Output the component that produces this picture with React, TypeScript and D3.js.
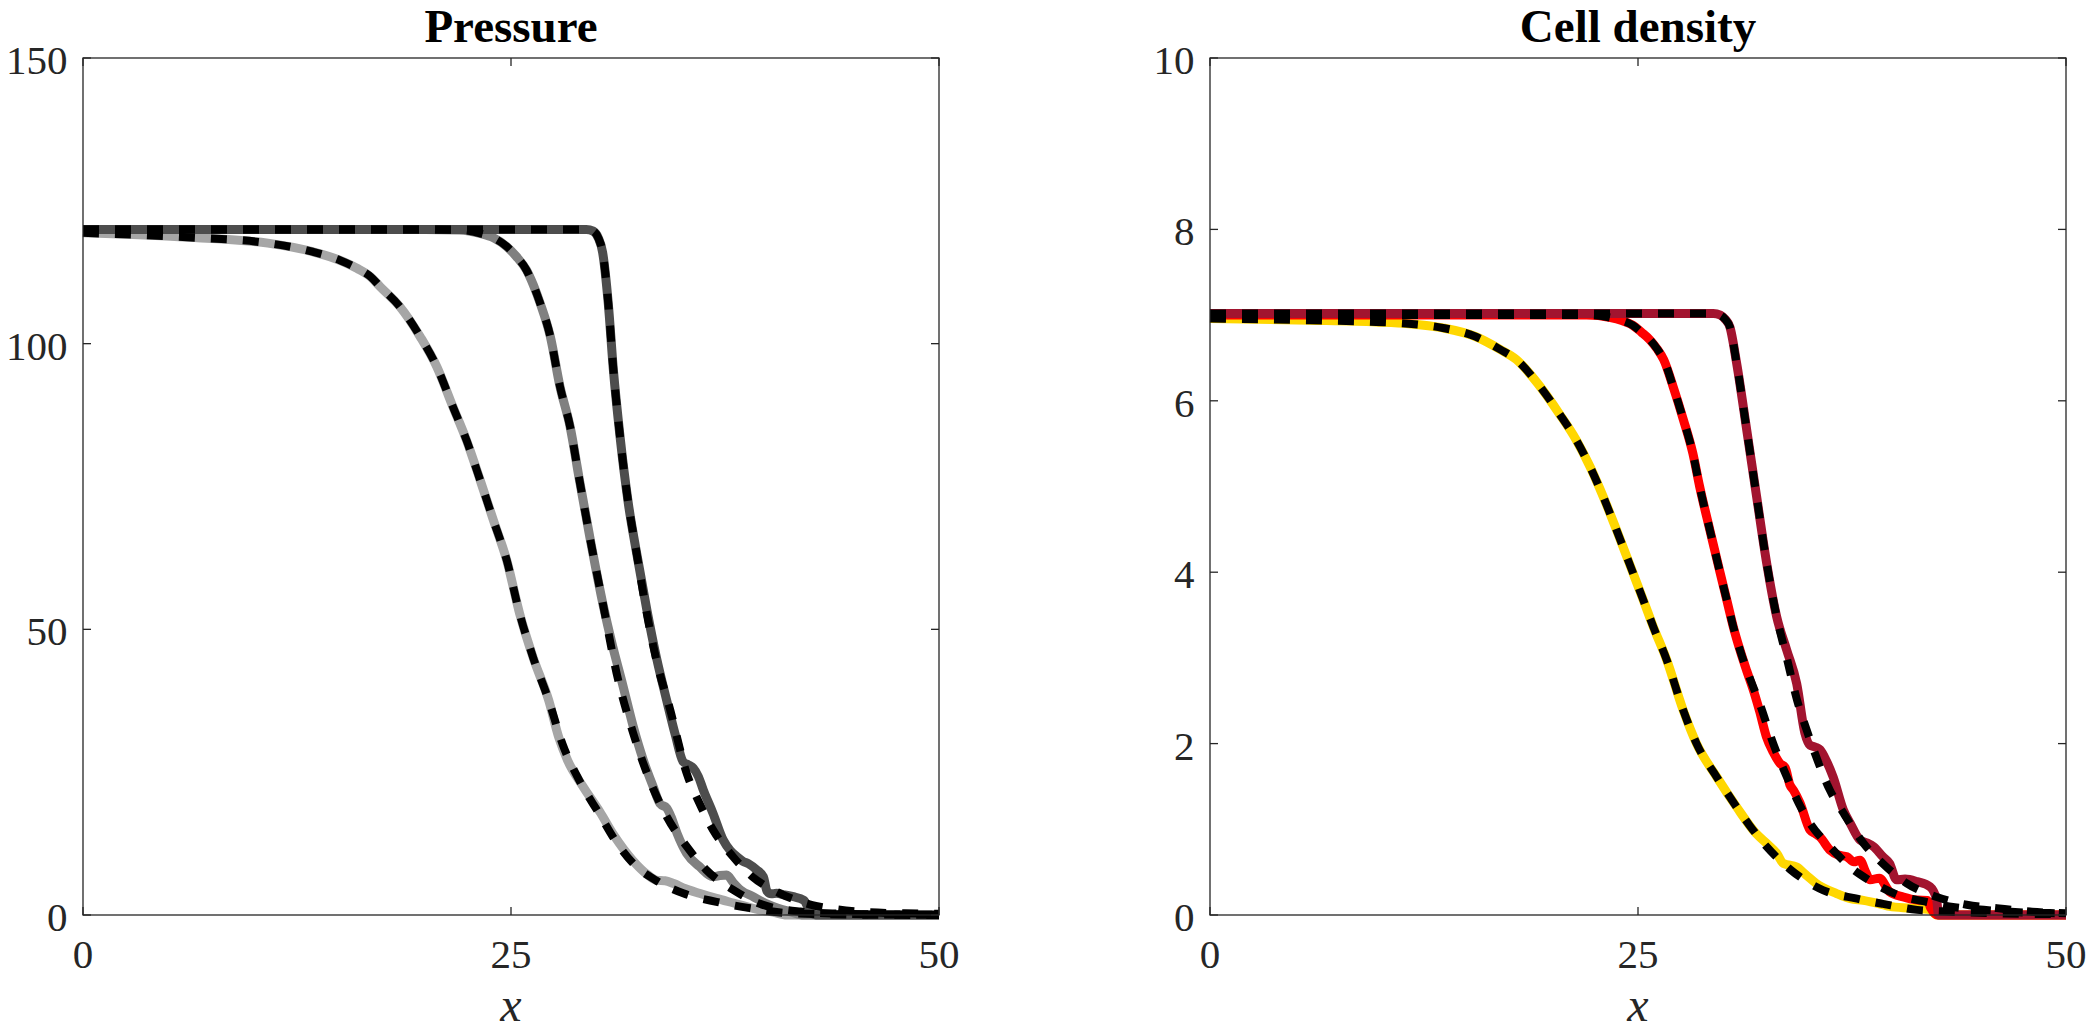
import React from "react";
import * as d3 from "d3";

// ---------- ticks ----------
const xTicks = [0, 25, 50];
const pressureTicks = [0, 50, 100, 150];
const densityTicks = [0, 2, 4, 6, 8, 10];

// ---------- Pressure: simulation (solid) ----------
const pSim1X = [0, 5.6, 10.8, 13.4, 15.0, 16.0, 16.8, 17.35, 18.5, 19.7, 20.66, 21.6, 22.4, 23.2, 23.97, 24.75, 25.5, 26.3, 27.2, 27.8, 28.3, 29.2, 30.2, 31.0, 32.1, 33.0, 33.5, 34.0, 34.5, 35.2, 36.0, 37.0, 38.0, 39.5, 40.3, 41.1, 50];
const pSim1Y = [119.4, 118.7, 117.6, 116.1, 114.6, 113.2, 111.7, 110, 106.5, 101.2, 96, 89, 83.1, 76.1, 69.1, 62.1, 52.8, 45, 37.6, 31, 27.1, 22.5, 18, 14, 9.6, 7.0, 6.1, 6.0, 5.5, 4.6, 3.8, 2.9, 2.1, 0.9, 0.5, 0, 0];

const pSim2X = [0, 20, 22, 23.19, 24.0, 24.75, 25.3, 25.9, 26.3, 26.7, 27.3, 27.86, 28.45, 29.0, 29.6, 30.4, 30.9, 31.5, 32.14, 32.73, 33.3, 33.7, 34.1, 34.35, 34.7, 35.26, 36.0, 36.8, 37.2, 37.6, 38.0, 38.4, 39.15, 39.9, 40.6, 41.3, 42.1, 50];
const pSim2Y = [120, 120, 119.9, 119.3, 118.5, 117, 115.3, 112.9, 110.3, 107.1, 101.2, 92.5, 85.5, 76.1, 66.2, 54, 47.5, 40.6, 33, 27.1, 22.5, 19.5, 18.7, 17.2, 14.3, 10.8, 8.5, 6.7, 6.9, 7.0, 5.6, 4.4, 3.2, 2.0, 1.2, 0.6, 0, 0];

const pSim3X = [0, 29.4, 29.8, 30.1, 30.35, 30.68, 30.98, 31.37, 31.85, 32.34, 32.93, 33.5, 34.09, 34.6, 35.06, 35.35, 35.65, 35.95, 36.23, 36.8, 37.4, 37.8, 38.2, 38.55, 38.86, 39.35, 39.74, 39.95, 40.2, 40.5, 41.0, 41.5, 42.1, 42.5, 42.8, 50];
const pSim3Y = [120, 120, 119.7, 118.5, 116, 107.1, 95.4, 83.7, 72.1, 63.3, 53.5, 45, 37.6, 31.5, 26.8, 26.3, 25.7, 24.2, 21.9, 17.8, 13.1, 11.3, 10.2, 9.4, 9.0, 7.9, 6.7, 4.2, 3.7, 3.8, 3.5, 3.2, 2.6, 0.6, 0, 0];

// ---------- Pressure: model (dashed) ----------
const pMod1X = [0, 5.6, 10.8, 13.4, 15.0, 16.0, 16.8, 17.35, 18.5, 19.7, 20.66, 21.6, 22.4, 23.2, 23.97, 24.75, 25.5, 26.3, 27.2, 28.0, 29.0, 30.2, 31.1, 32.14, 33.5, 35.06, 37.0, 38.96, 40.9, 43, 46, 50];
const pMod1Y = [119.4, 118.7, 117.6, 116.1, 114.6, 113.2, 111.7, 110, 106.5, 101.2, 96, 89, 83.1, 76.1, 69.1, 62.1, 52.8, 45, 37.6, 30, 23.5, 17.5, 13, 9.0, 6.0, 3.8, 2.3, 1.2, 0.4, 0.15, 0.05, 0];

const pMod2X = [0, 20, 22, 23.19, 24.0, 24.75, 25.3, 25.9, 26.3, 26.7, 27.3, 27.86, 28.45, 29.0, 29.6, 30.4, 31.17, 32.14, 33.1, 34.1, 35.26, 36.4, 37.98, 39.5, 41.9, 44, 47, 50];
const pMod2Y = [120, 120, 119.9, 119.3, 118.5, 117, 115.3, 112.9, 110.3, 107.1, 101.2, 92.5, 85.5, 76.1, 66.2, 54, 42.3, 31.8, 23.6, 17.2, 12, 7.9, 4.4, 2.0, 0.6, 0.25, 0.1, 0.05];

const pMod3X = [0, 29.4, 29.8, 30.1, 30.35, 30.68, 30.98, 31.37, 31.85, 32.34, 32.93, 33.5, 34.3, 35.26, 36.0, 36.8, 37.97, 39.1, 40.7, 42.6, 44, 45.8, 48, 50];
const pMod3Y = [120, 120, 119.7, 118.5, 116, 107.1, 95.4, 83.7, 72.1, 63.3, 52.8, 44.5, 35.9, 24.8, 19.6, 14.9, 10.2, 6.7, 3.8, 1.75, 1.0, 0.5, 0.3, 0.2];

// ---------- Cell density: simulation (solid) ----------
const nSim1X = [0, 5.8, 9.7, 11.6, 13.6, 15.5, 16.94, 17.9, 19.15, 20.4, 21.4, 22.2, 22.97, 23.75, 24.5, 25.3, 25.9, 26.67, 27.64, 28.42, 29.6, 30.76, 31.9, 32.6, 33.1, 33.5, 34.27, 34.8, 35.4, 36.6, 37.4, 38.16, 39.3, 39.7, 40.9, 42.06, 42.45, 50];
const nSim1Y = [6.96, 6.94, 6.92, 6.9, 6.85, 6.75, 6.6, 6.48, 6.2, 5.85, 5.54, 5.23, 4.88, 4.49, 4.1, 3.68, 3.36, 2.98, 2.39, 2.0, 1.61, 1.26, 0.95, 0.82, 0.72, 0.6, 0.56, 0.47, 0.37, 0.25, 0.19, 0.17, 0.12, 0.1, 0.08, 0.06, 0, 0];

const nSim2X = [0, 22, 23.4, 24.0, 24.7, 25.2, 25.7, 26.1, 26.5, 27.06, 27.65, 28.2, 28.6, 29.2, 29.8, 30.18, 30.57, 30.96, 31.35, 31.73, 32.1, 32.5, 32.9, 33.29, 33.6, 33.87, 34.1, 34.46, 35.05, 35.35, 35.63, 36.2, 36.7, 37.2, 37.6, 37.97, 38.3, 38.55, 39.1, 39.7, 40.5, 41.3, 41.9, 42.1, 42.5, 50];
const nSim2Y = [7.0, 7.0, 6.97, 6.94, 6.88, 6.8, 6.71, 6.61, 6.48, 6.16, 5.78, 5.39, 5.0, 4.49, 3.99, 3.68, 3.36, 3.09, 2.85, 2.63, 2.38, 2.08, 1.9, 1.77, 1.72, 1.52, 1.45, 1.31, 0.99, 0.95, 0.91, 0.76, 0.7, 0.68, 0.62, 0.64, 0.5, 0.41, 0.43, 0.27, 0.21, 0.175, 0.17, 0.08, 0, 0];

const nSim3X = [0, 29.4, 29.8, 30.1, 30.37, 30.76, 31.35, 31.93, 32.52, 33.1, 33.69, 34.27, 34.75, 35.05, 35.35, 35.63, 36.0, 36.4, 36.99, 37.4, 37.97, 38.4, 38.75, 39.3, 39.7, 40.1, 40.6, 41.3, 42.06, 42.45, 42.55, 50];
const nSim3Y = [7.02, 7.02, 7.0, 6.95, 6.86, 6.44, 5.66, 4.88, 4.1, 3.48, 3.09, 2.7, 2.12, 1.98, 1.96, 1.93, 1.8, 1.61, 1.23, 1.07, 0.875, 0.84, 0.8, 0.68, 0.6, 0.41, 0.42, 0.39, 0.33, 0.175, 0, 0];

// ---------- Cell density: model (dashed) ----------
const nMod1X = [0, 5.8, 9.7, 11.6, 13.6, 15.5, 16.94, 17.9, 19.15, 20.4, 21.4, 22.2, 22.97, 23.75, 24.5, 25.3, 25.9, 26.67, 27.64, 28.42, 29.6, 30.76, 31.5, 32.5, 33.9, 35.8, 37.8, 39.3, 41.3, 43, 46, 50];
const nMod1Y = [6.96, 6.94, 6.92, 6.9, 6.85, 6.75, 6.6, 6.48, 6.2, 5.85, 5.54, 5.23, 4.88, 4.49, 4.1, 3.68, 3.36, 2.98, 2.39, 2.0, 1.61, 1.26, 1.05, 0.8, 0.53, 0.29, 0.19, 0.13, 0.06, 0.04, 0.02, 0.01];

const nMod2X = [0, 22, 23.4, 24.0, 24.7, 25.2, 25.7, 26.1, 26.5, 27.06, 27.65, 28.2, 28.6, 29.2, 29.8, 30.18, 30.57, 30.96, 31.5, 32.1, 32.9, 33.7, 34.4, 35.05, 36.2, 37.4, 38.55, 40.1, 41.9, 43.5, 45.2, 47.5, 50];
const nMod2Y = [7.0, 7.0, 6.97, 6.94, 6.88, 6.8, 6.71, 6.61, 6.48, 6.16, 5.78, 5.39, 5.0, 4.49, 3.99, 3.68, 3.36, 3.09, 2.78, 2.47, 2.0, 1.61, 1.3, 1.07, 0.8, 0.56, 0.4, 0.24, 0.15, 0.09, 0.06, 0.03, 0.02];

const nMod3X = [0, 29.4, 29.8, 30.1, 30.37, 30.76, 31.35, 31.93, 32.52, 33.1, 33.69, 34.3, 34.85, 35.4, 36.2, 37.0, 38.16, 39.3, 40.7, 42.45, 44.2, 45.95, 47.9, 50];
const nMod3Y = [7.02, 7.02, 7.0, 6.95, 6.86, 6.44, 5.66, 4.88, 4.1, 3.48, 3.0, 2.5, 2.16, 1.85, 1.46, 1.19, 0.84, 0.6, 0.37, 0.21, 0.12, 0.08, 0.04, 0.02];

const pressureColors = ["#a6a6a6", "#808080", "#4d4d4d"];
const densityColors = ["#ffd700", "#ff0000", "#a2142f"];

type Series = { x: number[]; y: number[] };

const TOP = 58;
const BOTTOM = 915;
const WIDTH = 856;
const FONT = "'Liberation Serif', 'Times New Roman', Times, serif";
const AXIS_COLOR = "#262626";

function Panel(props: {
  left: number;
  title: string;
  yMax: number;
  yTicks: number[];
  sims: Series[];
  models: Series[];
  colors: string[];
}) {
  const { left, title, yMax, yTicks, sims, models, colors } = props;
  const xs = d3.scaleLinear().domain([0, 50]).range([left, left + WIDTH]);
  const ys = d3.scaleLinear().domain([0, yMax]).range([BOTTOM, TOP]);
  const line = (s: Series) =>
    d3
      .line<number>()
      .x((_, i) => xs(s.x[i]))
      .y((_, i) => ys(s.y[i]))
      .curve(d3.curveMonotoneX)(s.y) || "";
  const tickLen = 8;
  const right = left + WIDTH;
  const cx = left + WIDTH / 2;
  return (
    <g>
      {sims.map((s, i) => (
        <path
          key={"s" + i}
          d={line(s)}
          fill="none"
          stroke={colors[i]}
          strokeWidth={9}
          strokeLinejoin="round"
          strokeLinecap="butt"
        />
      ))}
      {models.map((s, i) => (
        <path
          key={"m" + i}
          d={line(s)}
          fill="none"
          stroke="#000"
          strokeWidth={8}
          strokeDasharray="16 16"
          strokeLinejoin="round"
          strokeLinecap="butt"
        />
      ))}
      <rect
        x={left}
        y={TOP}
        width={WIDTH}
        height={BOTTOM - TOP}
        fill="none"
        stroke={AXIS_COLOR}
        strokeWidth={1.3}
      />
      {xTicks.map((t) => (
        <g key={"xt" + t}>
          <line x1={xs(t)} x2={xs(t)} y1={BOTTOM} y2={BOTTOM - tickLen} stroke={AXIS_COLOR} strokeWidth={1.3} />
          <line x1={xs(t)} x2={xs(t)} y1={TOP} y2={TOP + tickLen} stroke={AXIS_COLOR} strokeWidth={1.3} />
          <text x={xs(t)} y={BOTTOM + 53} textAnchor="middle" fontFamily={FONT} fontSize={41} fill={AXIS_COLOR}>
            {t}
          </text>
        </g>
      ))}
      {yTicks.map((t) => (
        <g key={"yt" + t}>
          <line x1={left} x2={left + tickLen} y1={ys(t)} y2={ys(t)} stroke={AXIS_COLOR} strokeWidth={1.3} />
          <line x1={right} x2={right - tickLen} y1={ys(t)} y2={ys(t)} stroke={AXIS_COLOR} strokeWidth={1.3} />
          <text x={left - 15.5} y={ys(t) + 16} textAnchor="end" fontFamily={FONT} fontSize={41} fill={AXIS_COLOR}>
            {t}
          </text>
        </g>
      ))}
      <text x={cx} y={42} textAnchor="middle" fontFamily={FONT} fontSize={47} fontWeight="bold" fill="#000">
        {title}
      </text>
      <text x={cx} y={1021} textAnchor="middle" fontFamily={FONT} fontSize={48} fontStyle="italic" fill={AXIS_COLOR}>
        x
      </text>
    </g>
  );
}

export default function App() {
  const pSims: Series[] = [
    { x: pSim1X, y: pSim1Y },
    { x: pSim2X, y: pSim2Y },
    { x: pSim3X, y: pSim3Y },
  ];
  const pMods: Series[] = [
    { x: pMod1X, y: pMod1Y },
    { x: pMod2X, y: pMod2Y },
    { x: pMod3X, y: pMod3Y },
  ];
  const nSims: Series[] = [
    { x: nSim1X, y: nSim1Y },
    { x: nSim2X, y: nSim2Y },
    { x: nSim3X, y: nSim3Y },
  ];
  const nMods: Series[] = [
    { x: nMod1X, y: nMod1Y },
    { x: nMod2X, y: nMod2Y },
    { x: nMod3X, y: nMod3Y },
  ];
  return (
    <svg
      width={2094}
      height={1032}
      style={{ position: "absolute", left: 0, top: 0, background: "#fff" }}
    >
      <rect x={0} y={0} width={2094} height={1032} fill="#fff" />
      <Panel left={83} title="Pressure" yMax={150} yTicks={pressureTicks} sims={pSims} models={pMods} colors={pressureColors} />
      <Panel left={1210} title="Cell density" yMax={10} yTicks={densityTicks} sims={nSims} models={nMods} colors={densityColors} />
    </svg>
  );
}
